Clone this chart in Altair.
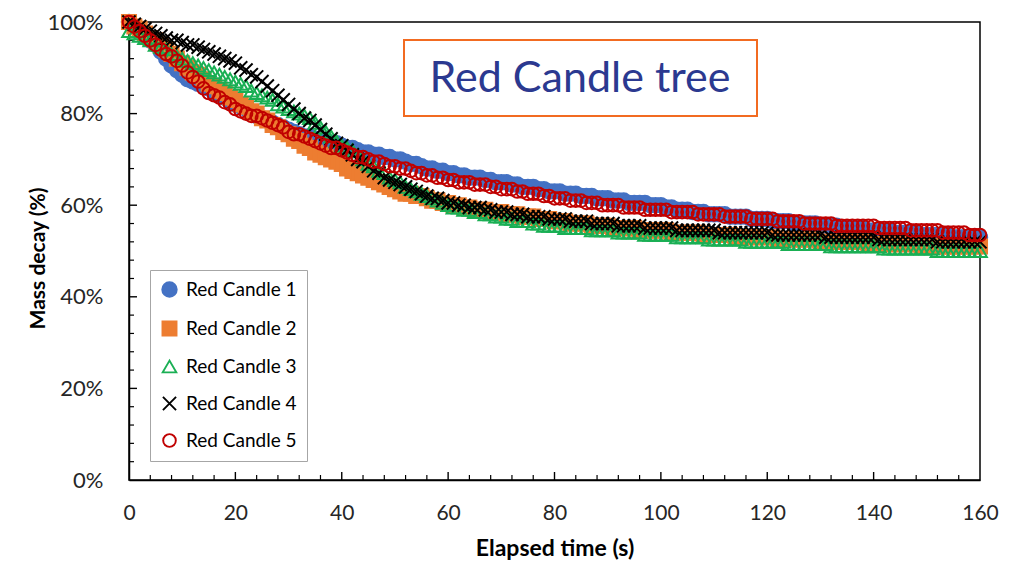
import altair as alt
import pandas as pd

series_names = ["Red Candle 1", "Red Candle 2", "Red Candle 3", "Red Candle 4", "Red Candle 5"]
elapsed_s = list(range(0, 161))

candle1 = [100, 99, 98, 97, 96, 95, 93.5, 92, 90.5, 89.5, 88.5,
           87.5, 87, 86.5, 86, 85.5, 84.5, 84, 83.5, 82.5, 82,
           81.5, 81, 80, 79.5, 79, 78.5, 78, 77.5, 77, 76.5,
           76, 75.5, 75, 75, 74.5, 74, 74, 73.5, 73.5, 73,
           72.5, 72.5, 72, 71.5, 71.5, 71, 71, 70.5, 70.5, 70,
           70, 69.5, 69, 69, 68.5, 68, 68, 67.5, 67.5, 67,
           67, 66.5, 66.5, 66, 66, 66, 65.5, 65.5, 65, 65,
           65, 64.5, 64.5, 64, 64, 64, 63.5, 63.5, 63, 63,
           63, 62.5, 62.5, 62.5, 62, 62, 62, 61.5, 61.5, 61.5,
           61, 61, 61, 60.5, 60.5, 60.5, 60.5, 60, 60, 60,
           59.5, 59.5, 59, 59, 59, 58.5, 58.5, 58.5, 58, 58,
           58, 58, 57.5, 57.5, 57.5, 57.5, 57, 57, 57, 57,
           56.5, 56.5, 56.5, 56.5, 56, 56, 56, 56, 56, 55.5,
           55.5, 55.5, 55.5, 55, 55, 55, 55, 55, 54.5, 54.5,
           54.5, 54.5, 54.5, 54, 54, 54, 54, 54, 53.5, 53.5,
           53.5, 53.5, 53.5, 53.5, 53, 53, 53, 53, 53, 53]

candle2 = [100, 99, 98.5, 97.5, 96.5, 96, 95, 94, 93, 92, 91,
           90, 89, 88.5, 87.5, 86.5, 86, 85, 84.5, 83.5, 83,
           82, 81.5, 80.5, 80, 79, 78.5, 77.5, 77, 76, 75.5,
           74.5, 74, 73, 72.5, 71.5, 71, 70.5, 70, 69.5, 69,
           68, 67.5, 67, 66.5, 66, 65.5, 65, 64.5, 64, 63.5,
           63, 62.5, 62.5, 62, 62, 61.5, 61, 61, 60.5, 60.5,
           60, 60, 59.5, 59.5, 59, 59, 59, 58.5, 58.5, 58.5,
           58, 58, 58, 57.5, 57.5, 57.5, 57, 57, 57, 56.5,
           56.5, 56.5, 56, 56, 56, 56, 55.5, 55.5, 55.5, 55.5,
           55, 55, 55, 55, 55, 54.5, 54.5, 54.5, 54.5, 54.5,
           54.5, 54, 54, 54, 54, 54, 54, 53.5, 53.5, 53.5,
           53.5, 53.5, 53.5, 53, 53, 53, 53, 53, 53, 53,
           53, 52.5, 52.5, 52.5, 52.5, 52.5, 52.5, 52.5, 52.5, 52,
           52, 52, 52, 52, 52, 52, 52, 52, 51.5, 51.5,
           51.5, 51.5, 51.5, 51.5, 51.5, 51.5, 51.5, 51.5, 51, 51,
           51, 51, 51, 51, 51, 51, 51, 51, 51, 51]

candle3 = [98, 97.5, 97, 96.5, 96, 95, 94.5, 94, 93, 92.5, 92,
           91.5, 91, 90.5, 90, 89.5, 89, 88.5, 88, 87.5, 87,
           86.5, 86, 85, 84.5, 84, 83.5, 83, 82, 81.5, 81,
           80.5, 80, 79.5, 79, 78, 77, 76, 75, 74, 73,
           72.5, 72, 71, 70, 69, 68.5, 67.5, 67, 66, 65.5,
           65, 64, 63.5, 63, 62.5, 62, 61.5, 61, 60.5, 60,
           59.5, 59.5, 59, 59, 58.5, 58.5, 58, 58, 57.5, 57.5,
           57, 57, 56.5, 56.5, 56.5, 56, 56, 55.5, 55.5, 55.5,
           55.5, 55, 55, 55, 55, 55, 54.5, 54.5, 54.5, 54.5,
           54.5, 54, 54, 54, 54, 54, 53.5, 53.5, 53.5, 53.5,
           53.5, 53.5, 53, 53, 53, 53, 53, 53, 52.5, 52.5,
           52.5, 52.5, 52.5, 52.5, 52.5, 52, 52, 52, 52, 52,
           52, 52, 52, 51.5, 51.5, 51.5, 51.5, 51.5, 51.5, 51.5,
           51.5, 51, 51, 51, 51, 51, 51, 51, 51, 51,
           51, 50.5, 50.5, 50.5, 50.5, 50.5, 50.5, 50.5, 50.5, 50.5,
           50.5, 50, 50, 50, 50, 50, 50, 50, 50, 50]

candle4 = [100, 99.5, 99, 98.5, 98, 97.5, 97, 96.5, 96, 96, 95.5,
           95, 95, 94.5, 94, 93.5, 93, 92.5, 92, 91.5, 91,
           90, 89.5, 88.5, 88, 87, 86, 85, 84, 83, 82,
           81, 80, 79, 78.5, 77.5, 76.5, 75.5, 74.5, 73.5, 73,
           72, 71, 70, 69.5, 68.5, 67.5, 67, 66, 65.5, 65,
           64.5, 64, 63.5, 63, 62.5, 62, 61.5, 61.5, 61, 60.5,
           60.5, 60, 60, 59.5, 59.5, 59.5, 59, 59, 58.5, 58.5,
           58.5, 58, 58, 58, 57.5, 57.5, 57.5, 57.5, 57, 57,
           57, 57, 56.5, 56.5, 56.5, 56.5, 56, 56, 56, 56,
           56, 55.5, 55.5, 55.5, 55.5, 55.5, 55, 55, 55, 55,
           55, 55, 54.5, 54.5, 54.5, 54.5, 54.5, 54.5, 54.5, 54.5,
           54, 54, 54, 54, 54, 54, 54, 54, 54, 54,
           53.5, 53.5, 53.5, 53.5, 53.5, 53.5, 53.5, 53.5, 53.5, 53.5,
           53, 53, 53, 53, 53, 53, 53, 53, 53, 53,
           52.5, 52.5, 52.5, 52.5, 52.5, 52.5, 52.5, 52.5, 52.5, 52.5,
           52.5, 52, 52, 52, 52, 52, 52, 52, 52, 52]

candle5 = [100, 99, 98, 97, 96, 95, 94, 93, 92.5, 91.5, 90.5,
           89, 88, 87, 85.5, 84.5, 84, 83.5, 82.5, 82, 81,
           80.5, 80, 79.5, 79.5, 79, 78.5, 78, 77.5, 77, 76,
           75.5, 75.5, 75, 74.5, 74, 73.5, 73, 72.5, 72.5, 72,
           71.5, 71, 70.5, 70.5, 70, 69.5, 69.5, 69, 68.5, 68.5,
           68, 68, 67.5, 67, 67, 66.5, 66.5, 66, 66, 65.5,
           65.5, 65, 65, 65, 64.5, 64.5, 64.5, 64, 64, 63.5,
           63.5, 63.5, 63, 63, 62.5, 62.5, 62.5, 62, 62, 61.5,
           61.5, 61.5, 61, 61, 61, 60.5, 60.5, 60.5, 60, 60,
           60, 60, 59.5, 59.5, 59.5, 59.5, 59, 59, 59, 59,
           59, 58.5, 58.5, 58.5, 58.5, 58.5, 58, 58, 58, 58,
           58, 57.5, 57.5, 57.5, 57.5, 57.5, 57, 57, 57, 57,
           57, 56.5, 56.5, 56.5, 56.5, 56.5, 56, 56, 56, 56,
           56, 56, 55.5, 55.5, 55.5, 55.5, 55.5, 55.5, 55.5, 55.5,
           55, 55, 55, 55, 55, 55, 54.5, 54.5, 54.5, 54.5,
           54.5, 54.5, 54, 54, 54, 54, 54, 53.5, 53.5, 53.5]

x_tick_labels = [0, 20, 40, 60, 80, 100, 120, 140, 160]
y_tick_labels = [0, 20, 40, 60, 80, 100]
x_minor_ticks = [v for v in range(4, 160, 4) if v % 20 != 0]
y_minor_ticks = [v for v in range(4, 100, 4) if v % 20 != 0]
x_major_ticks = [20, 40, 60, 80, 100, 120, 140]
y_major_ticks = [20, 40, 60, 80]
chart_label = "Red Candle tree"

all_series = [candle1, candle2, candle3, candle4, candle5]
rows = []
for name, vals in zip(series_names, all_series):
    assert len(vals) == len(elapsed_s)
    for t, v in zip(elapsed_s, vals):
        rows.append({"t": t, "v": v, "series": name})
df = pd.DataFrame(rows)

W, H = 851, 458
FONT = "Lato"

xscale = alt.Scale(domain=[0, 160], nice=False, zero=False)
yscale = alt.Scale(domain=[0, 100], nice=False)

shapes = ["circle", "square", "triangle-up", "M-1,-1L1,1M1,-1L-1,1", "circle"]
fills = ["#4472C4", "#ED7D31", "transparent", "transparent", "transparent"]
strokes = ["#4472C4", "#ED7D31", "#1AAF54", "#000000", "#C00000"]
sizes = [210, 160, 190, 120, 230]

points = alt.Chart(df).mark_point(strokeWidth=2, opacity=1, clip=False).encode(
    x=alt.X("t:Q", scale=xscale,
            axis=alt.Axis(values=x_tick_labels, title="Elapsed time (s)", ticks=False, tickSize=0,
                          grid=False, domainColor="black", domainWidth=1.5,
                          labelFont=FONT, labelFontSize=21, labelColor="#262626",
                          labelPadding=22, labelFlush=False,
                          titleFont=FONT, titleFontSize=23, titleFontWeight="bold",
                          titleColor="black", titleY=68, titleBaseline="middle")),
    y=alt.Y("v:Q", scale=yscale,
            axis=alt.Axis(values=y_tick_labels, labelExpr="datum.value + '%'",
                          title="Mass decay (%)", ticks=False, tickSize=0,
                          grid=False, domainColor="black", domainWidth=1.5,
                          labelFont=FONT, labelFontSize=22, labelColor="#262626",
                          labelPadding=26, labelFlush=False,
                          titleFont=FONT, titleFontSize=21, titleFontWeight="bold",
                          titleColor="black", titleX=-91, titleY=236,
                          titleBaseline="middle", titleAlign="center")),
    shape=alt.Shape("series:N", scale=alt.Scale(domain=series_names, range=shapes), title=None),
    fill=alt.Fill("series:N", scale=alt.Scale(domain=series_names, range=fills), title=None),
    stroke=alt.Stroke("series:N", scale=alt.Scale(domain=series_names, range=strokes), title=None),
    size=alt.Size("series:N", scale=alt.Scale(domain=series_names, range=sizes), title=None),
)

xminor = alt.Chart(pd.DataFrame({"t": x_minor_ticks})).mark_rule(color="black", strokeWidth=1.2).encode(
    x=alt.X("t:Q", scale=xscale), y=alt.value(H), y2=alt.value(H - 5))
xmajor = alt.Chart(pd.DataFrame({"t": x_major_ticks})).mark_rule(color="black", strokeWidth=1.4).encode(
    x=alt.X("t:Q", scale=xscale), y=alt.value(H), y2=alt.value(H - 8))
yminor = alt.Chart(pd.DataFrame({"v": y_minor_ticks})).mark_rule(color="black", strokeWidth=1.2).encode(
    y=alt.Y("v:Q", scale=yscale), x=alt.value(0), x2=alt.value(5))
ymajor = alt.Chart(pd.DataFrame({"v": y_major_ticks})).mark_rule(color="black", strokeWidth=1.4).encode(
    y=alt.Y("v:Q", scale=yscale), x=alt.value(0), x2=alt.value(8))

label_df = pd.DataFrame({"label": [chart_label]})
box = alt.Chart(label_df).mark_rect(fill="white", stroke="#F26B21", strokeWidth=2).encode(
    x=alt.value(275), x2=alt.value(628), y=alt.value(18), y2=alt.value(94))
box_text = alt.Chart(label_df).mark_text(font=FONT, fontSize=43, color="#2B3990",
                                         align="center", baseline="middle").encode(
    x=alt.value(451), y=alt.value(57), text="label:N")

chart = alt.layer(xminor, xmajor, yminor, ymajor, points, box, box_text).properties(
    width=W, height=H,
    autosize=alt.AutoSizeParams(type="none"),
    padding={"left": 129, "top": 22, "right": 40, "bottom": 82},
    background="white",
).configure_view(
    stroke="black", strokeWidth=1.5
).configure_legend(
    orient="none", legendX=21, legendY=248, padding=10, rowPadding=16,
    labelFont=FONT, labelFontSize=19, labelColor="black", labelOffset=7,
    symbolStrokeWidth=1.9, fillColor="white", strokeColor="#A6A6A6",
    titleFontSize=0,
)

chart.save("out.html", embed_options={"renderer": "svg", "actions": False})
